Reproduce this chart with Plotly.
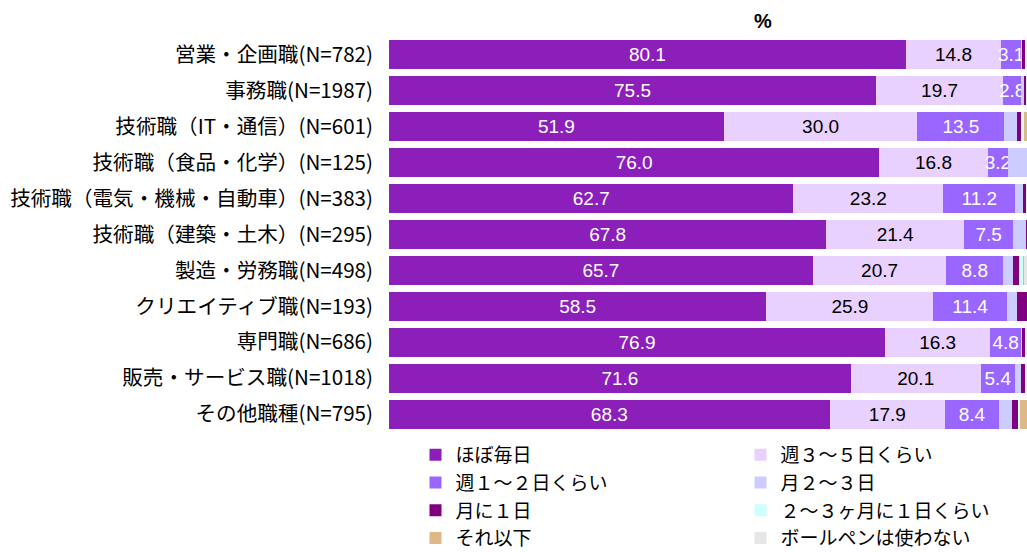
import plotly.graph_objects as go

categories = [
    "営業・企画職(N=782)",
    "事務職(N=1987)",
    "技術職（IT・通信）(N=601)",
    "技術職（食品・化学）(N=125)",
    "技術職（電気・機械・自動車）(N=383)",
    "技術職（建築・土木）(N=295)",
    "製造・労務職(N=498)",
    "クリエイティブ職(N=193)",
    "専門職(N=686)",
    "販売・サービス職(N=1018)",
    "その他職種(N=795)",
]

series_names = [
    "ほぼ毎日", "週３～５日くらい", "週１～２日くらい", "月２～３日",
    "月に１日", "２～３ヶ月に１日くらい", "それ以下", "ボールペンは使わない",
]

almost_daily   = [80.1, 75.5, 51.9, 76.0, 62.7, 67.8, 65.7, 58.5, 76.9, 71.6, 68.3]
week_3_5       = [14.8, 19.7, 30.0, 16.8, 23.2, 21.4, 20.7, 25.9, 16.3, 20.1, 17.9]
week_1_2       = [3.1, 2.8, 13.5, 3.2, 11.2, 7.5, 8.8, 11.4, 4.8, 5.4, 8.4]
month_2_3      = [0.1, 0.4, 1.9, 3.2, 1.2, 2.0, 1.6, 1.6, 0.1, 0.9, 1.9]
month_1        = [0.5, 0.4, 0.7, 0.0, 0.5, 0.7, 0.8, 2.1, 0.6, 0.7, 1.1]
months_2_3     = [0.3, 0.2, 0.4, 0.0, 0.3, 0.0, 0.7, 0.0, 0.2, 0.2, 0.2]
less           = [0.3, 0.2, 1.0, 0.0, 0.3, 0.3, 0.2, 0.0, 0.3, 0.2, 1.5]
no_pen         = [0.8, 0.8, 0.6, 0.8, 0.6, 0.3, 1.5, 0.5, 0.8, 0.9, 0.7]

values = [almost_daily, week_3_5, week_1_2, month_2_3, month_1, months_2_3, less, no_pen]
colors = ["#8C1FBA", "#E8D0FF", "#9966FF", "#CCCCFF", "#800080", "#CCFFFF", "#DEB887", "#E6E6E6"]
label_colors = ["white", "black", "white", None, None, None, None, None]

NUM_FONT = "Liberation Sans, Arial, sans-serif"

fig = go.Figure()
for i, (name, vals, col) in enumerate(zip(series_names, values, colors)):
    show_text = label_colors[i] is not None
    fig.add_trace(go.Bar(
        y=categories, x=vals, name=name, orientation="h",
        marker=dict(color=col, line=dict(width=0)),
        text=[f"{v:.1f}" for v in vals] if show_text else None,
        textposition="inside" if show_text else "none",
        insidetextanchor="middle",
        textangle=0,
        constraintext="none",
        textfont=dict(color=label_colors[i] or "black", size=19, family=NUM_FONT),
        legend="legend" if i % 2 == 0 else "legend2",
        hoverinfo="x+name",
    ))

legend_common = dict(xanchor="left", yanchor="top", orientation="v",
                     xref="container", yref="container", traceorder="normal",
                     font=dict(size=19), bgcolor="rgba(0,0,0,0)", tracegroupgap=0)

fig.update_layout(
    width=1027, height=552,
    barmode="stack", bargap=0.194,
    margin=dict(l=389, r=0, t=36.5, b=119.5, autoexpand=False),
    plot_bgcolor="white", paper_bgcolor="white",
    font=dict(family="Noto Sans CJK JP, sans-serif", color="black"),
    xaxis=dict(range=[0, 98.9], showgrid=False, showticklabels=False, zeroline=False,
               showline=False, automargin=False),
    yaxis=dict(autorange="reversed", showgrid=False, showline=False, ticks="", automargin=False,
               ticklabelstandoff=15, tickfont=dict(size=20.6, family="Noto Sans CJK JP, sans-serif")),
    legend=dict(x=415.5 / 1027, y=1 - 436 / 552, **legend_common),
    legend2=dict(x=740.5 / 1027, y=1 - 436 / 552, **legend_common),
    annotations=[dict(text="<b>%</b>", x=0.5862, y=1, xref="paper", yref="paper",
                      yanchor="middle", yshift=16.5, showarrow=False,
                      font=dict(size=20, family="Liberation Sans, Arial, sans-serif"))],
)

fig.write_html(
    "out.html",
    config={"displayModeBar": False},
    post_script="document.body.style.margin='0px';document.body.style.overflow='hidden';",
)
